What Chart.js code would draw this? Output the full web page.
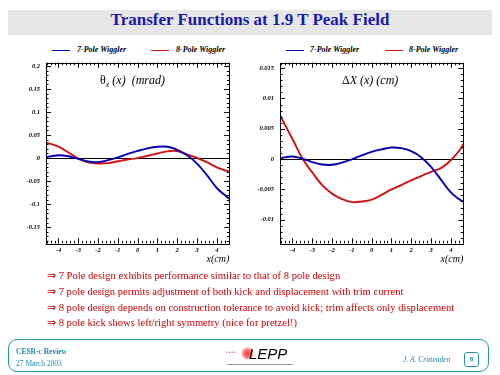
<!DOCTYPE html>
<html>
<head>
<meta charset="utf-8">
<script src="https://cdn.jsdelivr.net/npm/chart.js@4"></script>
<style>
  body { margin: 0; width: 500px; height: 375px; background: #fff; position: relative; overflow: hidden; font-family: "Liberation Serif", serif; }
  .abs { position: absolute; }
  .band { left: 8px; top: 10px; width: 484px; height: 25px; background: #e6e6e6; }
  .title { left: 8px; top: 10px; width: 484px; line-height: 25px; text-align: center; color: #1a1aa8; font: bold 17px "Liberation Serif", serif; }
  .leg { font: italic bold 8px "Liberation Serif", serif; color: #000; top: 45px; line-height: 10px; }
  .sw { height: 1.5px; top: 49.5px; }
  .note { font: italic 12px "Liberation Serif", serif; color: #000; white-space: nowrap; }
  .bul { left: 47px; top: 268px; color: #cc0000; font: 10.6px/15.8px "Liberation Serif", serif; white-space: nowrap; }
  .foot { left: 8px; top: 339px; width: 481px; height: 33px; border: 1.3px solid #2a8fb0; border-radius: 9px; box-sizing: border-box; }
  .ft { color: #1f86a8; font: bold 7.5px "Liberation Serif", serif; white-space: nowrap; }
</style>
</head>
<body>
<div class="abs band"></div>
<div class="abs title">Transfer Functions at 1.9 T Peak Field</div>

<div class="abs sw" style="left:52px;width:18px;background:#0000b0"></div>
<div class="abs leg" style="left:77px">7-Pole Wiggler</div>
<div class="abs sw" style="left:151px;width:18px;background:#d01010"></div>
<div class="abs leg" style="left:176px">8-Pole Wiggler</div>
<div class="abs sw" style="left:286px;width:18px;background:#0000b0"></div>
<div class="abs leg" style="left:310px">7-Pole Wiggler</div>
<div class="abs sw" style="left:385px;width:18px;background:#d01010"></div>
<div class="abs leg" style="left:409px">8-Pole Wiggler</div>

<canvas id="kickChart" class="abs" style="left:0;top:40px" width="250" height="230"></canvas>
<canvas id="dispChart" class="abs" style="left:234px;top:40px" width="250" height="230"></canvas>

<div class="abs note" style="left:100px;top:73px"><span style="font-style:normal">θ</span><sub style="font-size:8px">x</sub> (x)&nbsp;&nbsp;(mrad)</div>
<div class="abs note" style="left:342px;top:73px"><span style="font-style:normal">Δ</span>X (x) (cm)</div>

<div class="abs bul">
  ⇒ 7 Pole design exhibits performance similar to that of 8 pole design<br>
  ⇒ 7 pole design permits adjustment of both kick and displacement with trim current<br>
  ⇒ 8 pole design depends on construction tolerance to avoid kick; trim affects only displacement<br>
  ⇒ 8 pole kick shows left/right symmetry (nice for pretzel!)
</div>

<div class="abs foot"></div>
<div class="abs ft" style="left:16px;top:347px">CESR-c Review</div>
<div class="abs ft" style="left:16px;top:359px;font-weight:normal">27 March 2003</div>
<div class="abs" style="left:226px;top:350px;width:16px;height:4px;color:#d02020;font:3px sans-serif">● ● ● ●</div>
<div class="abs" style="left:241px;top:347px;width:13px;height:13px;border-radius:50%;background:radial-gradient(circle,#ff3030 0,#ff8080 45%,rgba(255,200,200,0) 75%)"></div>
<div class="abs" style="left:249px;top:345px;font:italic 15px 'Liberation Sans',sans-serif;color:#000">LEPP</div>
<div class="abs" style="left:227px;top:364px;width:66px;height:1px;background:#999"></div>
<div class="abs ft" style="left:403px;top:355px;font-style:italic;font-weight:normal">J. A. Crittenden</div>
<div class="abs" style="left:464px;top:352px;width:15px;height:15px;border:1.2px solid #2a8fb0;border-radius:3px;box-sizing:border-box;color:#1f86a8;font:bold 7px 'Liberation Serif',serif;text-align:center;line-height:13px">8</div>

<script>
// sample positions along x (cm)
const xPoints = [-4.63, -4.5, -4, -3.5, -3, -2.5, -2, -1.5, -1, -0.5, 0, 0.5, 1, 1.5, 2, 2.5, 3, 3.5, 4, 4.5, 4.63];

// kick theta_x (mrad)
const kick7Pole = [0.000, 0.003, 0.0062, 0.004, -0.0015, -0.0075, -0.0088, -0.0045, 0.0015, 0.009, 0.0155, 0.021, 0.0245, 0.0245, 0.018, 0.006, -0.012, -0.037, -0.065, -0.084, -0.0885];
const kick8Pole = [0.033, 0.032, 0.025, 0.012, -0.001, -0.009, -0.0118, -0.011, -0.007, -0.003, 0.000, 0.005, 0.010, 0.0145, 0.015, 0.008, 0.0005, -0.009, -0.020, -0.028, -0.0295];

// displacement delta X (cm)
const disp7Pole = [0.0000, 0.0002, 0.00043, 0.00005, -0.0005, -0.0009, -0.00095, -0.0006, -0.00005, 0.0006, 0.0012, 0.0016, 0.0019, 0.0018, 0.0013, 0.0003, -0.0013, -0.0034, -0.0055, -0.0068, -0.0070];
const disp8Pole = [0.0073, 0.0064, 0.0033, 0.0001, -0.0022, -0.0043, -0.0057, -0.0066, -0.0071, -0.0070, -0.0067, -0.0059, -0.0050, -0.0043, -0.0035, -0.0028, -0.0021, -0.0015, -0.0002, 0.0017, 0.0025];

const xTicks = [-4, -3, -2, -1, 0, 1, 2, 3, 4];
const kickTicks = [-0.15, -0.1, -0.05, 0, 0.05, 0.1, 0.15, 0.2];
const dispTicks = [-0.01, -0.005, 0, 0.005, 0.01, 0.015];

const blue = "#0000b0";
const red = "#d01010";
const tickFont = { family: "Liberation Serif", style: "italic", weight: "bold", size: 6.5 };

// ROOT-style frame with inward ticks on all four sides
const frameTicks = {
  id: "frameTicks",
  afterDraw(chart, args, opts) {
    const { ctx, chartArea: a, scales: { x, y } } = chart;
    ctx.save();
    ctx.strokeStyle = "#000";
    ctx.lineWidth = 1;
    ctx.strokeRect(Math.round(a.left) + 0.5, Math.round(a.top) + 0.5, Math.round(a.right - a.left), Math.round(a.bottom - a.top));
    ctx.beginPath();
    const marks = (scale, step, len, horiz) => {
      for (let k = Math.ceil(scale.min / step - 1e-9); k <= Math.floor(scale.max / step + 1e-9); k++) {
        const p = Math.round(scale.getPixelForValue(k * step)) + 0.5;
        if (horiz) {
          ctx.moveTo(p, a.bottom); ctx.lineTo(p, a.bottom - len);
          ctx.moveTo(p, a.top); ctx.lineTo(p, a.top + len);
        } else {
          ctx.moveTo(a.left, p); ctx.lineTo(a.left + len, p);
          ctx.moveTo(a.right, p); ctx.lineTo(a.right - len, p);
        }
      }
    };
    marks(x, 0.2, 2.5, true);
    marks(x, 1, 5, true);
    marks(y, opts.yMinor, 2.5, false);
    marks(y, opts.yMajor, 5, false);
    ctx.stroke();
    ctx.restore();
  }
};

function makeChart(id, ys7, ys8, yMin, yMax, yTicks, yMajor, yMinor) {
  return new Chart(document.getElementById(id), {
    type: "line",
    data: {
      datasets: [
        { label: "7-Pole Wiggler", data: xPoints.map((x, i) => ({ x, y: ys7[i] })), borderColor: blue, borderWidth: 1.9, pointRadius: 0, tension: 0.4 },
        { label: "8-Pole Wiggler", data: xPoints.map((x, i) => ({ x, y: ys8[i] })), borderColor: red, borderWidth: 1.9, pointRadius: 0, tension: 0.4 },
      ],
    },
    options: {
      responsive: false,
      animation: false,
      layout: { padding: { top: 22.7, right: 20.7, left: 0, bottom: 0 } },
      plugins: { legend: { display: false }, tooltip: { enabled: false }, frameTicks: { yMajor, yMinor } },
      scales: {
        x: {
          type: "linear",
          min: -4.63,
          max: 4.63,
          afterBuildTicks: (s) => { s.ticks = xTicks.map((v) => ({ value: v })); },
          afterFit: (s) => { s.height = 26.7; },
          grid: { display: false, drawTicks: false },
          border: { display: false },
          ticks: { padding: 3, color: "#000", font: tickFont, callback: (v) => String(v) },
          title: { display: true, text: "x(cm)", align: "end", color: "#000", padding: { top: 0, bottom: 5 }, font: { family: "Liberation Serif", style: "italic", size: 10 } },
        },
        y: {
          min: yMin,
          max: yMax,
          afterBuildTicks: (s) => { s.ticks = yTicks.map((v) => ({ value: v })); },
          afterFit: (s) => { s.width = 46; },
          grid: { drawTicks: false, lineWidth: 1, color: (c) => (c.tick && c.tick.value === 0 ? "#000" : "rgba(0,0,0,0)") },
          border: { display: false },
          ticks: { padding: 6, color: "#000", font: tickFont, callback: (v) => String(v) },
        },
      },
    },
    plugins: [frameTicks],
  });
}

makeChart("kickChart", kick7Pole, kick8Pole, -0.185, 0.207, kickTicks, 0.05, 0.01);
makeChart("dispChart", disp7Pole, disp8Pole, -0.0139, 0.0159, dispTicks, 0.005, 0.001);
</script>
</body>
</html>
